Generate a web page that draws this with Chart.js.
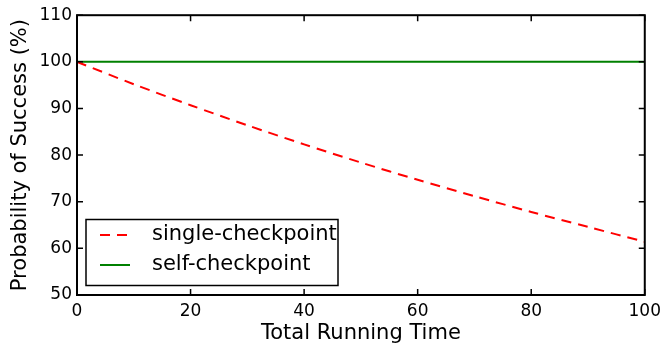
<!DOCTYPE html>
<html lang="en">
<head>
  <meta charset="UTF-8">
  <title>Probability of Success</title>
  <script src="https://cdn.jsdelivr.net/npm/chart.js@4.4.1/dist/chart.umd.min.js"></script>
  <style>
    body {
      margin: 0;
      padding: 0;
      background-color: #ffffff;
    }

    #wrap {
      width: 667px;
      height: 352px;
    }
  </style>
</head>
<body>
  <div id="wrap">
    <canvas id="chart" width="667" height="352"></canvas>
  </div>

  <script>
    // data
    const runningTime = [0, 10, 20, 30, 40, 50, 60, 70, 80, 90, 100];
    const singleCheckpoint = [100, 95.2, 90.7, 86.4, 82.3, 78.4, 74.7, 71.2, 67.8, 64.6, 61.4];
    const selfCheckpoint = [100, 100, 100, 100, 100, 100, 100, 100, 100, 100, 100];
    const seriesNames = ['single-checkpoint', 'self-checkpoint'];
    const xTicks = [0, 20, 40, 60, 80, 100];
    const yTicks = [50, 60, 70, 80, 90, 100, 110];

    const font = 'DejaVu Sans';

    function toPoints(ys) {
      return runningTime.map((x, i) => ({ x: x, y: ys[i] }));
    }

    // frame, inward ticks and legend box drawn like matplotlib classic
    const framePlugin = {
      id: 'frame',
      afterDatasetsDraw(chart) {
        const ctx = chart.ctx;
        const a = chart.chartArea;
        const xs = chart.scales.x;
        const ys = chart.scales.y;
        const len = 6;

        ctx.save();
        ctx.strokeStyle = '#000000';
        ctx.lineWidth = 1.5;
        ctx.beginPath();
        xTicks.forEach(v => {
          const px = xs.getPixelForValue(v);
          ctx.moveTo(px, a.bottom); ctx.lineTo(px, a.bottom - len);
          ctx.moveTo(px, a.top); ctx.lineTo(px, a.top + len);
        });
        yTicks.forEach(v => {
          const py = ys.getPixelForValue(v);
          ctx.moveTo(a.left, py); ctx.lineTo(a.left + len, py);
          ctx.moveTo(a.right, py); ctx.lineTo(a.right - len, py);
        });
        ctx.stroke();
        ctx.lineWidth = 2;
        ctx.strokeRect(a.left, a.top, a.right - a.left, a.bottom - a.top);

        // legend in lower left corner
        const bx = a.left + 9, by = 219.5, bw = 252, bh = 66;
        ctx.fillStyle = '#ffffff';
        ctx.fillRect(bx, by, bw, bh);
        ctx.lineWidth = 1.5;
        ctx.strokeRect(bx, by, bw, bh);

        const rows = [235, 265];
        chart.data.datasets.forEach((ds, i) => {
          ctx.strokeStyle = ds.borderColor;
          ctx.lineWidth = ds.borderWidth;
          ctx.setLineDash(ds.borderDash || []);
          ctx.beginPath();
          ctx.moveTo(bx + 14, rows[i]);
          ctx.lineTo(bx + 44, rows[i]);
          ctx.stroke();
          ctx.setLineDash([]);
          ctx.fillStyle = '#000000';
          ctx.font = '21px ' + font;
          ctx.textBaseline = 'middle';
          ctx.textAlign = 'left';
          ctx.fillText(ds.label, bx + 66, rows[i]);
        });
        ctx.restore();
      }
    };

    const ctx = document.getElementById('chart').getContext('2d');
    const chart = new Chart(ctx, {
      type: 'line',
      data: {
        datasets: [{
          label: seriesNames[0],
          data: toPoints(singleCheckpoint),
          borderColor: '#ff0000',
          borderWidth: 2,
          borderDash: [10, 7],
          pointRadius: 0,
          tension: 0.3
        }, {
          label: seriesNames[1],
          data: toPoints(selfCheckpoint),
          borderColor: '#008000',
          borderWidth: 2,
          pointRadius: 0
        }]
      },
      options: {
        responsive: false,
        animation: false,
        layout: {
          padding: { top: 15, right: 20, left: 0, bottom: 0 }
        },
        plugins: {
          legend: { display: false },
          tooltip: { enabled: false }
        },
        scales: {
          x: {
            type: 'linear',
            min: 0,
            max: 100,
            afterFit(scale) { scale.height = 57; },
            afterBuildTicks(scale) { scale.ticks = xTicks.map(v => ({ value: v })); },
            grid: { display: false, drawTicks: false },
            border: { display: false },
            ticks: {
              padding: 6,
              color: '#000000',
              font: { family: font, size: 17 },
              maxRotation: 0
            },
            title: {
              display: true,
              text: 'Total Running Time',
              color: '#000000',
              font: { family: font, size: 21 },
              padding: { top: 2, bottom: 6 }
            }
          },
          y: {
            min: 50,
            max: 110,
            afterFit(scale) { scale.width = 77; },
            afterBuildTicks(scale) { scale.ticks = yTicks.map(v => ({ value: v })); },
            grid: { display: false, drawTicks: false },
            border: { display: false },
            ticks: {
              padding: 5,
              color: '#000000',
              font: { family: font, size: 17 }
            },
            title: {
              display: true,
              text: 'Probability of Success (%)',
              color: '#000000',
              font: { family: font, size: 21 },
              padding: { top: 8, bottom: 4 }
            }
          }
        }
      },
      plugins: [framePlugin]
    });
  </script>
</body>
</html>
